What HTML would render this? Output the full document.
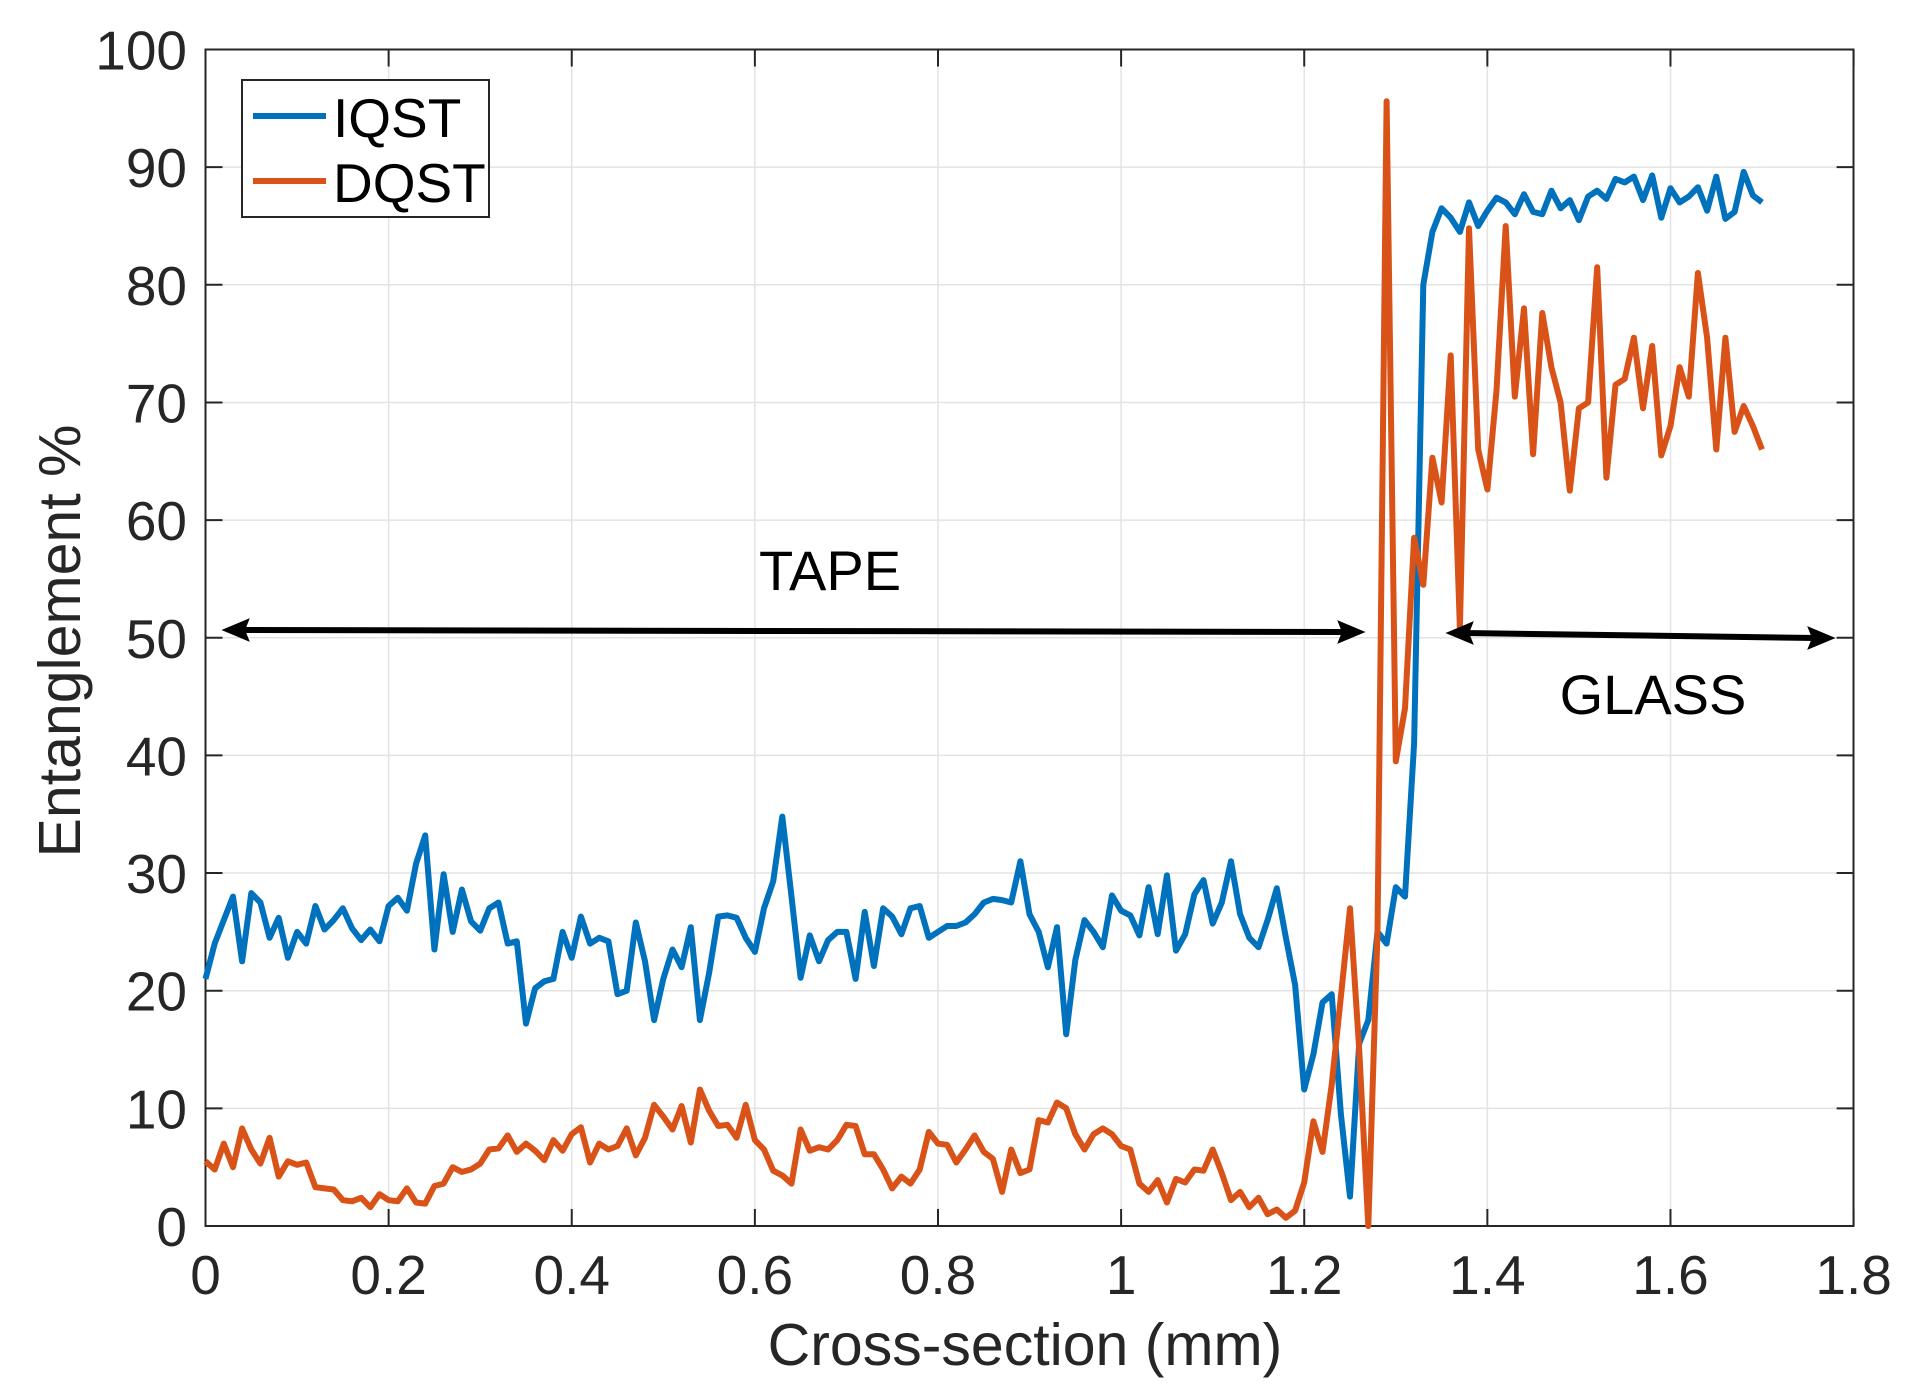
<!DOCTYPE html>
<html><head><meta charset="utf-8"><style>
html,body{margin:0;padding:0;background:#fff}
svg{display:block}
text{font-family:"Liberation Sans",sans-serif;fill:#262626}
</style></head><body>
<svg id="s" width="1913" height="1393" viewBox="0 0 1913 1393" xmlns="http://www.w3.org/2000/svg">
<rect width="1913" height="1393" fill="#fff"/>
<g id="grid" stroke="#e3e3e3" stroke-width="1.5"></g>
<g id="ticks" stroke="#262626" stroke-width="2"></g>
<rect x="205.5" y="49.5" width="1648" height="1176.5" fill="none" stroke="#262626" stroke-width="2"/>
<g id="labels" font-size="55"></g>
<polyline id="iq" fill="none" stroke="#0072BD" stroke-width="6" stroke-linejoin="round"/>
<polyline id="dq" fill="none" stroke="#D95319" stroke-width="6" stroke-linejoin="round"/>
<rect x="242" y="80" width="247" height="137" fill="#fff" stroke="#262626" stroke-width="2"/>
<line x1="253" y1="116" x2="326" y2="116" stroke="#0072BD" stroke-width="6"/>
<line x1="253" y1="181" x2="326" y2="181" stroke="#D95319" stroke-width="6"/>
<text x="333" y="137" font-size="55" style="fill:#000">IQST</text>
<text x="333" y="202" font-size="55" style="fill:#000">DQST</text>
<text x="830" y="590" font-size="56" text-anchor="middle" style="fill:#000">TAPE</text>
<text x="1653" y="714" font-size="56" text-anchor="middle" style="fill:#000">GLASS</text>
<g stroke="#000" stroke-width="6" fill="#000">
<line x1="240" y1="630" x2="1345" y2="632"/>
<polygon points="224,630 248,620 244,630 248,640" stroke-width="2"/>
<polygon points="1363,632 1339,622 1343,632 1339,642" stroke-width="2"/>
<line x1="1464" y1="633" x2="1815" y2="638"/>
<polygon points="1448,633 1472,623 1468,633 1472,643" stroke-width="2"/>
<polygon points="1833,638 1809,628 1813,638 1809,648" stroke-width="2"/>
</g>
<text x="1025" y="1365" font-size="59" text-anchor="middle">Cross-section (mm)</text>
<text transform="translate(80,641) rotate(-90)" font-size="59" text-anchor="middle">Entanglement %</text>
</svg>
<script>
var L=205.5,R=1853.6,T=49.5,B=1226;
function X(v){return L+v/1.8*(R-L)}function Y(v){return B-v/100*(B-T)}
var ns="http://www.w3.org/2000/svg",g=document.getElementById('grid'),t=document.getElementById('ticks'),lb=document.getElementById('labels');
function el(p,n,a,tx){var e=document.createElementNS(ns,n);for(var k in a)e.setAttribute(k,a[k]);if(tx!==undefined)e.textContent=tx;p.appendChild(e);}
for(var i=0;i<=9;i++){var v=i*0.2,x=X(v);if(i>0&&i<9)el(g,'line',{x1:x,y1:T,x2:x,y2:B});
el(t,'line',{x1:x,y1:B,x2:x,y2:B-17});el(t,'line',{x1:x,y1:T,x2:x,y2:T+17});
el(lb,'text',{x:x,y:B+68,'text-anchor':'middle'},i==0?'0':i==5?'1':v.toFixed(1));}
for(var i=0;i<=10;i++){var y=Y(i*10);if(i>0&&i<10)el(g,'line',{x1:L,y1:y,x2:R,y2:y});
el(t,'line',{x1:L,y1:y,x2:L+17,y2:y});el(t,'line',{x1:R,y1:y,x2:R-17,y2:y});
el(lb,'text',{x:187,y:y+20,'text-anchor':'end'},String(i*10));}
var iq=[21,24,26,28,22.5,28.3,27.5,24.5,26.2,22.8,25,24,27.2,25.2,26,27,25.3,24.3,25.2,24.2,27.2,27.9,26.8,30.8,33.2,23.5,29.9,25,28.6,25.9,25.1,27,27.5,24,24.2,17.2,20.2,20.8,21,25,22.8,26.3,24,24.5,24.2,19.7,20,25.8,22.5,17.5,21,23.5,22,25.4,17.5,21.5,26.3,26.4,26.2,24.5,23.3,27,29.3,34.8,28,21.1,24.7,22.5,24.3,25,25,21,26.7,22.1,27,26.3,24.8,27,27.2,24.5,25,25.5,25.5,25.8,26.5,27.5,27.8,27.7,27.5,31,26.5,25,22,25.4,16.3,22.6,26,25,23.7,28.1,26.8,26.4,24.7,28.8,24.8,29.8,23.4,24.8,28.2,29.4,25.7,27.5,31,26.5,24.5,23.7,26,28.7,24.5,20.5,11.6,14.6,19,19.7,9.5,2.5,15.5,17.5,25,24,28.8,28,41,80,84.5,86.5,85.7,84.5,87,85,86.3,87.4,87,86,87.7,86.2,86,88,86.5,87.2,85.5,87.5,88,87.3,89,88.7,89.2,87.2,89.3,85.7,88.2,87,87.5,88.3,86.3,89.2,85.6,86.2,89.6,87.6,87];
var dq=[5.5,4.8,7,5,8.3,6.5,5.3,7.5,4.2,5.5,5.2,5.4,3.3,3.2,3.1,2.2,2.1,2.4,1.6,2.7,2.2,2.1,3.2,2,1.9,3.4,3.6,5,4.6,4.8,5.3,6.5,6.6,7.7,6.3,7,6.4,5.6,7.3,6.4,7.8,8.4,5.4,7,6.5,6.8,8.3,6,7.5,10.3,9.3,8.2,10.2,7.1,11.6,9.8,8.5,8.6,7.5,10.3,7.3,6.5,4.7,4.3,3.6,8.2,6.4,6.7,6.5,7.3,8.6,8.5,6.1,6.1,4.8,3.2,4.2,3.6,4.8,8,7,6.9,5.4,6.5,7.7,6.3,5.7,2.9,6.5,4.5,4.8,9,8.8,10.5,10,7.8,6.5,7.8,8.3,7.8,6.8,6.5,3.6,2.9,3.9,2,4,3.7,4.8,4.7,6.5,4.5,2.2,2.9,1.6,2.4,1,1.4,0.7,1.3,3.7,8.9,6.3,12,19.5,27,15,0,25,95.6,39.5,44,58.5,54.5,65.3,61.5,74,50.8,84.8,66,62.6,71,85,70.5,78,65.6,77.6,73,70,62.5,69.5,70,81.5,63.6,71.5,72,75.5,69.5,74.8,65.5,68,73,70.5,81,75.5,66,75.5,67.5,69.7,68,66];
function pts(a){return a.map(function(v,i){return X(i*0.01).toFixed(1)+','+Y(v).toFixed(1)}).join(' ')}
document.getElementById('iq').setAttribute('points',pts(iq));
document.getElementById('dq').setAttribute('points',pts(dq));
</script>
</body></html>
